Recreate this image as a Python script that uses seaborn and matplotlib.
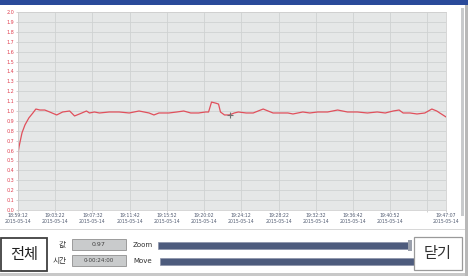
import matplotlib
matplotlib.use("Agg")
import matplotlib.pyplot as plt
import seaborn as sns
import pandas as pd
from matplotlib.patches import Rectangle

# ---- data (seconds from 18:59:12, value) ----
t_sec = [0, 3, 7, 27, 47, 73, 100, 120, 147, 180, 213, 260, 300, 347, 380, 413, 460,
         480, 513, 547, 613, 680, 747, 813, 847, 880, 913, 947, 1013, 1067, 1113, 1160,
         1213, 1260, 1280, 1300, 1327, 1347, 1360, 1387, 1420, 1453, 1480, 1533, 1580,
         1613, 1647, 1680, 1713, 1767, 1813, 1847, 1880, 1913, 1960, 2013, 2080, 2147,
         2213, 2280, 2347, 2413, 2467, 2520, 2560, 2587, 2633, 2680, 2733, 2780, 2813,
         2833, 2875]
values = [0.32, 0.60, 0.64, 0.78, 0.86, 0.93, 0.98, 1.02, 1.01, 1.01, 0.99, 0.96, 0.99,
          1.00, 0.95, 0.97, 1.00, 0.98, 0.99, 0.98, 0.99, 0.99, 0.98, 1.00, 0.99, 0.98,
          0.96, 0.98, 0.98, 0.99, 1.00, 0.98, 0.98, 0.99, 0.99, 1.09, 1.08, 1.07, 0.99,
          0.96, 0.96, 0.98, 0.99, 0.98, 0.98, 1.00, 1.02, 1.00, 0.98, 0.98, 0.98, 0.97,
          0.98, 0.99, 0.98, 0.99, 0.99, 1.01, 0.99, 0.99, 0.98, 0.99, 0.98, 1.00, 1.01,
          0.98, 0.98, 0.97, 0.98, 1.02, 1.00, 0.98, 0.94]
cursor_t = [1427]
cursor_v = [0.96]

tick_pos = [0, 250, 500, 750, 1000, 1250, 1500, 1750, 2000, 2250, 2500, 2750, 2875]
tick_time = ["18:59:12", "19:03:22", "19:07:32", "19:11:42", "19:15:52", "19:20:02",
             "19:24:12", "19:28:22", "19:32:32", "19:36:42", "19:40:52", "", "19:47:07"]
tick_date = "2015-05-14"
y_ticks = [round(i * 0.1, 1) for i in range(21)]

value_text = "0.97"
time_text = "0-00:24:00"

df = pd.DataFrame({"t": t_sec, "v": values})

W, H = 468, 276
fig = plt.figure(figsize=(W / 100, H / 100), dpi=100)
fig.patch.set_facecolor("white")

def fx(x):
    return x / W

def fy(y):
    return 1 - y / H

def rect(x0, y0, x1, y1, **kw):
    fig.add_artist(Rectangle((fx(x0), fy(y1)), fx(x1) - fx(x0), fy(y0) - fy(y1),
                             transform=fig.transFigure, **kw))

# window chrome
rect(0, 0, 468, 5, facecolor="#2a4a9a", edgecolor="none")
rect(461, 8, 464, 216, facecolor="#c8cacc", edgecolor="none")
rect(0, 229, 468, 230, facecolor="#d8d8d8", edgecolor="none")
rect(0, 273, 468, 276, facecolor="#c8c8c8", edgecolor="none")
rect(465, 5, 468, 276, facecolor="#b8b8b8", edgecolor="none")

# chart
ax = fig.add_axes([fx(18), fy(210), fx(446) - fx(18), fy(12) - fy(210)])
ax.set_facecolor("#e5e7e7")
sns.lineplot(data=df, x="t", y="v", ax=ax, color="#e0505c", linewidth=0.9)
ax.plot(cursor_t, cursor_v, marker="+", color="#707070", markersize=4, mew=0.8, ls="none")
ax.set_xlim(tick_pos[0], tick_pos[-1])
ax.set_ylim(0, 2.0)
ax.set_xticks(tick_pos)
ax.set_xticklabels([f"{s}\n{tick_date}" if s else "" for s in tick_time],
                   fontsize=3.3, color="#505a70", linespacing=1.1)
ax.set_yticks(y_ticks)
ax.set_yticklabels([f"{v:.1f}" for v in y_ticks], fontsize=3.5, color="#e04050")
ax.tick_params(axis="both", length=1.5, width=0.5, pad=1, colors="#c0c0c0")
for lab in ax.get_yticklabels():
    lab.set_color("#e04050")
for lab in ax.get_xticklabels():
    lab.set_color("#505a70")
ax.grid(True, color="#cfd2d2", linewidth=0.6)
ax.set_axisbelow(True)
for s in ax.spines.values():
    s.set_color("#d0d0d0")
    s.set_linewidth(0.6)
ax.set_xlabel("")
ax.set_ylabel("")

kfont = ["Noto Sans CJK KR", "DejaVu Sans"]

# bottom controls
rect(1, 238, 47, 271, facecolor="white", edgecolor="#404040", linewidth=1.3)
fig.text(fx(24), fy(255), "전체", family=kfont, fontsize=11, ha="center", va="center", color="#202020")
fig.text(fx(62), fy(244.5), "값", family=kfont, fontsize=5.5, ha="center", va="center", color="#303030")
fig.text(fx(60), fy(260.5), "시간", family=kfont, fontsize=5.5, ha="center", va="center", color="#303030")
rect(72, 239, 126, 250, facecolor="#c9cbcc", edgecolor="#909090", linewidth=0.6)
rect(72, 255, 126, 266, facecolor="#c9cbcc", edgecolor="#909090", linewidth=0.6)
fig.text(fx(99), fy(244.5), value_text, fontsize=4.5, ha="center", va="center", color="#404040")
fig.text(fx(99), fy(260.5), time_text, fontsize=4, ha="center", va="center", color="#404040")
fig.text(fx(143), fy(245), "Zoom", fontsize=5, ha="center", va="center", color="#303030")
fig.text(fx(143), fy(261), "Move", fontsize=5, ha="center", va="center", color="#303030")
rect(158, 242, 410, 249, facecolor="#4d5b7d", edgecolor="#8a92a8", linewidth=0.5)
rect(408, 240, 412, 251, facecolor="#9aa0ac", edgecolor="none")
rect(160, 258, 414, 265, facecolor="#4d5b7d", edgecolor="#8a92a8", linewidth=0.5)
rect(414, 237, 462, 270, facecolor="white", edgecolor="#9a9a9a", linewidth=0.9)
fig.text(fx(438), fy(253.5), "닫기", family=kfont, fontsize=11, ha="center", va="center", color="#303030")

fig.savefig("out.png", dpi=100)
